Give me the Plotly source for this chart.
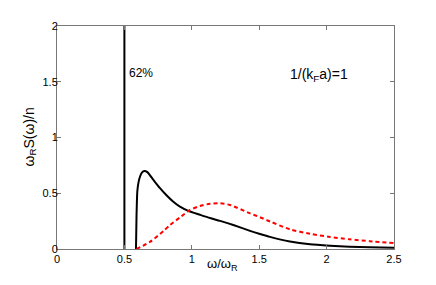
import plotly.graph_objects as go

# delta peak (62% weight) at omega/omega_R = 0.5
delta_x = [0.5, 0.5]
delta_y = [0.0, 2.0]

# black continuum
black_x = [0.586, 0.59, 0.596, 0.605, 0.616, 0.63, 0.648, 0.67, 0.715, 0.764, 0.814,
           0.863, 0.912, 0.974, 1.061, 1.135, 1.21, 1.308, 1.432, 1.506, 1.58, 1.728,
           1.877, 2.025, 2.17, 2.32, 2.5]
black_y = [0.0, 0.30, 0.52, 0.60, 0.65, 0.685, 0.70, 0.69, 0.62, 0.546, 0.48,
           0.424, 0.38, 0.342, 0.307, 0.278, 0.252, 0.215, 0.163, 0.135, 0.109, 0.068,
           0.043, 0.03, 0.021, 0.016, 0.012]

# red dashed curve
red_x = [0.59, 0.69, 0.789, 0.838, 0.912, 0.987, 1.061, 1.135, 1.21, 1.283, 1.432,
         1.506, 1.58, 1.728, 1.877, 2.025, 2.17, 2.32, 2.5]
red_y = [0.0, 0.064, 0.16, 0.215, 0.283, 0.35, 0.386, 0.406, 0.41, 0.395, 0.32,
         0.285, 0.247, 0.176, 0.136, 0.108, 0.087, 0.07, 0.053]

x_ticks = [0, 0.5, 1, 1.5, 2, 2.5]
x_labels = ["0", "0.5", "1", "1.5", "2", "2.5"]
y_ticks = [0, 0.5, 1, 1.5, 2]
y_labels = ["0", "0.5", "1", "1.5", "2"]

FONT = "Liberation Sans, Arial, sans-serif"

fig = go.Figure()
fig.add_trace(go.Scatter(x=delta_x, y=delta_y, mode="lines",
                         line=dict(color="black", width=2), showlegend=False))
fig.add_trace(go.Scatter(x=black_x, y=black_y, mode="lines",
                         line=dict(color="black", width=2, shape="spline", smoothing=0.6),
                         showlegend=False))
fig.add_trace(go.Scatter(x=red_x, y=red_y, mode="lines",
                         line=dict(color="red", width=2, dash="4px,3px", shape="spline",
                                   smoothing=0.6),
                         showlegend=False))

axis_common = dict(showgrid=False, zeroline=False, showline=True, linecolor="#777",
                   linewidth=1, mirror="ticks", ticks="inside", ticklen=4,
                   tickcolor="#777", tickfont=dict(family=FONT, size=11, color="black"))

fig.update_xaxes(range=[0, 2.5], tickvals=x_ticks, ticktext=x_labels, **axis_common)
fig.update_yaxes(range=[0, 2], tickvals=y_ticks, ticktext=y_labels,
                 ticklabelstandoff=-4, **axis_common)

fig.add_annotation(x=0.52, y=1.58, xref="x", yref="y", text="62%", showarrow=False,
                   xanchor="left", yanchor="middle",
                   font=dict(family=FONT, size=12, color="black"))
fig.add_annotation(x=1.715, y=1.56, xref="x", yref="y", text="1/(k<sub>F</sub>a)=1",
                   showarrow=False, xanchor="left", yanchor="middle",
                   font=dict(family=FONT, size=14, color="black"))
fig.add_annotation(x=1.23, y=-0.07, xref="x", yref="paper", text="ω/ω<sub>R</sub>",
                   showarrow=False, xanchor="center", yanchor="middle",
                   font=dict(family=FONT, size=13, color="black"))
fig.add_annotation(x=-0.083, y=0.5, xref="paper", yref="paper",
                   text="ω<sub>R</sub>S(ω)/n", textangle=-90, showarrow=False,
                   xanchor="center", yanchor="middle",
                   font=dict(family=FONT, size=14, color="black"))

fig.update_layout(width=428, height=277, margin=dict(l=49, r=42, t=13, b=36),
                  paper_bgcolor="white", plot_bgcolor="white",
                  font=dict(family=FONT, color="black"))

fig.write_html("out.html")
